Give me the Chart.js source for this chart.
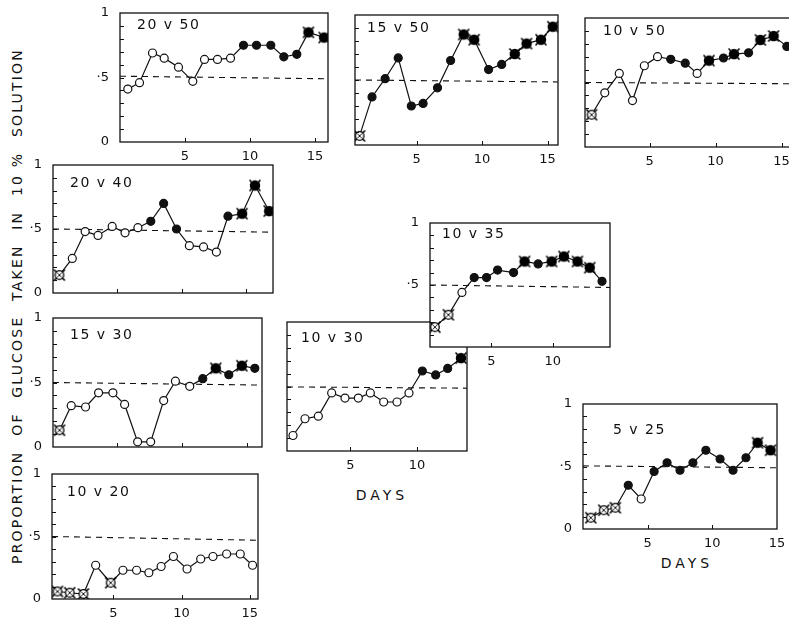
<!DOCTYPE html>
<html>
<head>
<meta charset="utf-8">
<script src="https://cdn.jsdelivr.net/npm/chart.js@4.4.0/dist/chart.umd.min.js"></script>
<style>
  html, body { margin: 0; padding: 0; background: #fff; overflow: hidden; }
  body { width: 789px; height: 621px; position: relative; font-family: "DejaVu Sans", sans-serif; color: #111; }
  canvas { position: absolute; }
  .ytitle {
    position: absolute; width: 600px; height: 18px; line-height: 18px;
    left: -283px; top: 297px; text-align: center; white-space: nowrap;
    font-size: 14px; letter-spacing: 2.2px; word-spacing: 8px;
    transform: rotate(-90deg); transform-origin: 50% 50%;
  }
  .ytitle span { word-spacing: 0; }
  .days { position: absolute; width: 100px; text-align: center; font-size: 14px; letter-spacing: 4px; line-height: 16px; }
</style>
</head>
<body>
<div class="ytitle">PROPORTION OF GLUCOSE TAKEN IN <span>10 %</span> SOLUTION</div>
<div class="days" style="left:332px; top:487px;">DAYS</div>
<div class="days" style="left:637px; top:555px;">DAYS</div>
<script>
// o = open circle, f = filled, x = open crossed, X = filled crossed
const days2050 = [0.6, 1.5, 2.5, 3.4, 4.5, 5.6, 6.5, 7.5, 8.5, 9.5, 10.5, 11.6, 12.6, 13.6, 14.5, 15.7];
const prop2050 = [0.41, 0.46, 0.69, 0.65, 0.58, 0.47, 0.64, 0.64, 0.65, 0.75, 0.75, 0.75, 0.66, 0.68, 0.85, 0.81];
const marks2050 = 'ooooooooofffffXX';
const chance2050 = [0.51, 0.49];

const days1550 = [0.65, 1.6, 2.6, 3.6, 4.6, 5.5, 6.6, 7.6, 8.6, 9.4, 10.5, 11.5, 12.5, 13.4, 14.5, 15.4];
const prop1550 = [0.07, 0.37, 0.51, 0.67, 0.30, 0.32, 0.44, 0.65, 0.85, 0.81, 0.58, 0.62, 0.70, 0.78, 0.81, 0.91];
const marks1550 = 'xfffffffXXffXXXX';
const chance1550 = [0.5, 0.485];

const days1050 = [0.6, 1.6, 2.7, 3.7, 4.6, 5.6, 6.6, 7.7, 8.6, 9.5, 10.6, 11.4, 12.5, 13.4, 14.4, 15.4];
const prop1050 = [0.25, 0.42, 0.57, 0.36, 0.63, 0.70, 0.68, 0.65, 0.57, 0.67, 0.69, 0.72, 0.73, 0.83, 0.86, 0.78];
const marks1050 = 'xoooooffoXfXfXXf';
const chance1050 = [0.5, 0.49];

const days2040 = [0.5, 1.5, 2.5, 3.5, 4.6, 5.6, 6.6, 7.6, 8.6, 9.6, 10.6, 11.7, 12.7, 13.6, 14.7, 15.7, 16.8];
const prop2040 = [0.14, 0.27, 0.48, 0.45, 0.52, 0.47, 0.51, 0.56, 0.70, 0.50, 0.37, 0.36, 0.32, 0.60, 0.62, 0.84, 0.64];
const marks2040 = 'xoooooofffooofXXX';
const chance2040 = [0.5, 0.475];

const days1035 = [0.4, 1.5, 2.6, 3.6, 4.6, 5.5, 6.8, 7.7, 8.8, 9.9, 10.9, 12.0, 13.0, 14.0];
const prop1035 = [0.16, 0.26, 0.44, 0.56, 0.56, 0.62, 0.60, 0.69, 0.67, 0.69, 0.73, 0.69, 0.64, 0.53];
const marks1035 = 'xxoffffXfXXXXf';
const chance1035 = [0.5, 0.48];

const days1530 = [0.6, 1.5, 2.6, 3.6, 4.7, 5.6, 6.6, 7.6, 8.6, 9.5, 10.6, 11.6, 12.6, 13.6, 14.6, 15.6];
const prop1530 = [0.13, 0.32, 0.31, 0.42, 0.42, 0.33, 0.04, 0.04, 0.36, 0.51, 0.47, 0.53, 0.61, 0.56, 0.63, 0.61];
const marks1530 = 'xoooooooooofXfXf';
const chance1530 = [0.5, 0.48];

const days1030 = [0.7, 1.6, 2.6, 3.6, 4.6, 5.6, 6.5, 7.5, 8.5, 9.4, 10.4, 11.4, 12.3, 13.3];
const prop1030 = [0.12, 0.25, 0.27, 0.45, 0.41, 0.41, 0.45, 0.38, 0.38, 0.45, 0.62, 0.59, 0.64, 0.72];
const marks1030 = 'oooooooooofffX';
const chance1030 = [0.497, 0.487];

const days0525 = [0.6, 1.6, 2.5, 3.5, 4.5, 5.5, 6.5, 7.5, 8.5, 9.5, 10.6, 11.6, 12.6, 13.5, 14.5];
const prop0525 = [0.09, 0.15, 0.17, 0.35, 0.24, 0.46, 0.53, 0.47, 0.53, 0.63, 0.56, 0.47, 0.57, 0.69, 0.63];
const marks0525 = 'xxxfoffffffffXX';
const chance0525 = [0.505, 0.49];

const days1020 = [0.9, 1.8, 2.8, 3.7, 4.8, 5.7, 6.7, 7.6, 8.5, 9.4, 10.4, 11.4, 12.3, 13.3, 14.3, 15.2];
const prop1020 = [0.06, 0.05, 0.04, 0.27, 0.13, 0.23, 0.23, 0.21, 0.26, 0.34, 0.24, 0.32, 0.34, 0.36, 0.36, 0.27];
const marks1020 = 'xxxoxooooooooooo';
const chance1020 = [0.5, 0.47];

const xTickValues = [5, 10, 15];
const yTickValues = [0, 0.5, 1];
const yTickLabels = ['0', '·5', '1'];

// box = [left, top, right, bottom] of the framed plot in page pixels
const panels = [
  { label: '20 v 50', days: days2050, prop: prop2050, marks: marks2050, chance: chance2050, box: [120, 13, 328, 142], xRange: [0, 16], yShown: [0, 0.5, 1], xShown: true, labelAt: [17, 12] },
  { label: '15 v 50', days: days1550, prop: prop1550, marks: marks1550, chance: chance1550, box: [355, 15, 558, 145], xRange: [0.3, 15.8], yShown: [], xShown: true, labelAt: [12, 13] },
  { label: '10 v 50', days: days1050, prop: prop1050, marks: marks1050, chance: chance1050, box: [585, 18, 800, 147], xRange: [0.1, 16.4], yShown: [], xShown: true, labelAt: [18, 13] },
  { label: '20 v 40', days: days2040, prop: prop2040, marks: marks2040, chance: chance2040, box: [53, 165, 273, 293], xRange: [0, 17.1], yShown: [0, 0.5, 1], xShown: false, labelAt: [17, 18] },
  { label: '15 v 30', days: days1530, prop: prop1530, marks: marks1530, chance: chance1530, box: [53, 318, 262, 447], xRange: [0.1, 16.15], yShown: [0, 0.5, 1], xShown: false, labelAt: [17, 17] },
  { label: '10 v 30', days: days1030, prop: prop1030, marks: marks1030, chance: chance1030, box: [287, 322, 467, 451], xRange: [0.25, 13.75], yShown: [], xShown: true, labelAt: [14, 16] },
  { label: '10 v 35', days: days1035, prop: prop1035, marks: marks1035, chance: chance1035, box: [430, 223, 610, 347], xRange: [0, 14.65], yShown: [0.5, 1], xShown: true, labelAt: [12, 11] },
  { label: '5 v 25', days: days0525, prop: prop0525, marks: marks0525, chance: chance0525, box: [583, 404, 777, 529], xRange: [0, 15], yShown: [0, 0.5, 1], xShown: true, labelAt: [30, 26] },
  { label: '10 v 20', days: days1020, prop: prop1020, marks: marks1020, chance: chance1020, box: [52, 474, 258, 599], xRange: [0.5, 15.6], yShown: [0, 0.5, 1], xShown: true, labelAt: [15, 18] }
];

const INK = '#111';
const PAD_LEFT = 40, PAD_TOP = 10, PAD_RIGHT = 10, PAD_BOTTOM = 30;

function crossMarker(filled) {
  const c = document.createElement('canvas');
  c.width = 14; c.height = 14;
  const g = c.getContext('2d');
  g.strokeStyle = '#000';
  // corner spikes
  g.lineWidth = 1.6;
  g.beginPath();
  g.moveTo(1.5, 1.5); g.lineTo(12.5, 12.5);
  g.moveTo(12.5, 1.5); g.lineTo(1.5, 12.5);
  g.stroke();
  g.lineWidth = 1.3;
  g.beginPath();
  g.arc(7, 7, filled ? 4.6 : 4.3, 0, Math.PI * 2);
  g.fillStyle = filled ? '#000' : '#fff';
  g.fill();
  g.stroke();
  if (!filled) {
    g.lineWidth = 0.9;
    g.beginPath();
    g.moveTo(4.5, 4.5); g.lineTo(9.5, 9.5);
    g.moveTo(9.5, 4.5); g.lineTo(4.5, 9.5);
    g.stroke();
  }
  return c;
}
const openCross = crossMarker(false);
const filledCross = crossMarker(true);

// frame, inward ticks and the panel label
const panelFrame = {
  id: 'panelFrame',
  beforeDraw(chart) {
    const { ctx, chartArea: a } = chart;
    ctx.save();
    ctx.fillStyle = '#fff';
    ctx.fillRect(a.left, a.top, a.right - a.left, a.bottom - a.top);
    ctx.restore();
  },
  afterDraw(chart, args, opts) {
    const { ctx, chartArea: a, scales: { x, y } } = chart;
    ctx.save();
    ctx.strokeStyle = INK;
    ctx.lineWidth = 1.3;
    ctx.strokeRect(a.left, a.top, a.right - a.left, a.bottom - a.top);
    ctx.lineWidth = 1;
    ctx.beginPath();
    for (let k = 1; k < 10; k++) {
      const py = Math.round(y.getPixelForValue(k / 10)) + 0.5;
      ctx.moveTo(a.left, py);
      ctx.lineTo(a.left + 4, py);
    }
    xTickValues.forEach(v => {
      if (v > x.min && v < x.max) {
        const px = Math.round(x.getPixelForValue(v)) + 0.5;
        ctx.moveTo(px, a.bottom);
        ctx.lineTo(px, a.bottom - 4);
      }
    });
    ctx.stroke();
    ctx.fillStyle = INK;
    ctx.font = '14px "DejaVu Sans"';
    ctx.letterSpacing = '1.5px';
    ctx.textBaseline = 'middle';
    ctx.fillText(opts.label, a.left + opts.labelAt[0], a.top + opts.labelAt[1]);
    ctx.restore();
  }
};

panels.forEach(p => {
  const [l, t, r, b] = p.box;
  const canvas = document.createElement('canvas');
  canvas.width = r - l + PAD_LEFT + PAD_RIGHT;
  canvas.height = b - t + PAD_TOP + PAD_BOTTOM;
  canvas.style.left = (l - PAD_LEFT) + 'px';
  canvas.style.top = (t - PAD_TOP) + 'px';
  document.body.appendChild(canvas);

  new Chart(canvas.getContext('2d'), {
    type: 'line',
    data: {
      datasets: [{
        label: p.label,
        data: p.days.map((d, i) => ({ x: d, y: p.prop[i] })),
        borderColor: INK,
        borderWidth: 1.2,
        pointStyle: p.marks.split('').map(m => m === 'x' ? openCross : m === 'X' ? filledCross : 'circle'),
        pointBackgroundColor: p.marks.split('').map(m => m === 'o' || m === 'x' ? '#fff' : INK),
        pointBorderColor: INK,
        pointBorderWidth: 1.2,
        pointRadius: 4,
        tension: 0
      }, {
        label: 'chance',
        data: [{ x: p.xRange[0], y: p.chance[0] }, { x: p.xRange[1], y: p.chance[1] }],
        borderColor: INK,
        borderWidth: 1.1,
        borderDash: [6, 5],
        pointRadius: 0
      }]
    },
    options: {
      responsive: false,
      animation: false,
      devicePixelRatio: 1,
      layout: { padding: { left: 0, top: PAD_TOP, right: PAD_RIGHT, bottom: 0 } },
      plugins: {
        legend: { display: false },
        tooltip: { enabled: false },
        panelFrame: { label: p.label, labelAt: p.labelAt }
      },
      scales: {
        x: {
          type: 'linear',
          min: p.xRange[0],
          max: p.xRange[1],
          afterFit: s => { s.height = PAD_BOTTOM; s.paddingLeft = 0; s.paddingRight = 0; },
          afterBuildTicks: s => { s.ticks = xTickValues.filter(v => v >= s.min && v <= s.max).map(v => ({ value: v })); },
          grid: { display: false, drawTicks: false },
          border: { display: false },
          ticks: {
            display: p.xShown,
            autoSkip: false,
            maxRotation: 0,
            padding: 7,
            color: INK,
            font: { family: 'DejaVu Sans', size: 13 },
            callback: v => String(v)
          }
        },
        y: {
          type: 'linear',
          min: 0,
          max: 1,
          afterFit: s => { s.width = PAD_LEFT; s.paddingTop = 0; s.paddingBottom = 0; },
          afterBuildTicks: s => { s.ticks = p.yShown.map(v => ({ value: v })); },
          grid: { display: false, drawTicks: false },
          border: { display: false },
          ticks: {
            autoSkip: false,
            padding: 11,
            color: INK,
            font: { family: 'DejaVu Sans', size: 13 },
            callback: v => yTickLabels[yTickValues.indexOf(v)]
          }
        }
      }
    },
    plugins: [panelFrame]
  });
});
</script>
</body>
</html>
